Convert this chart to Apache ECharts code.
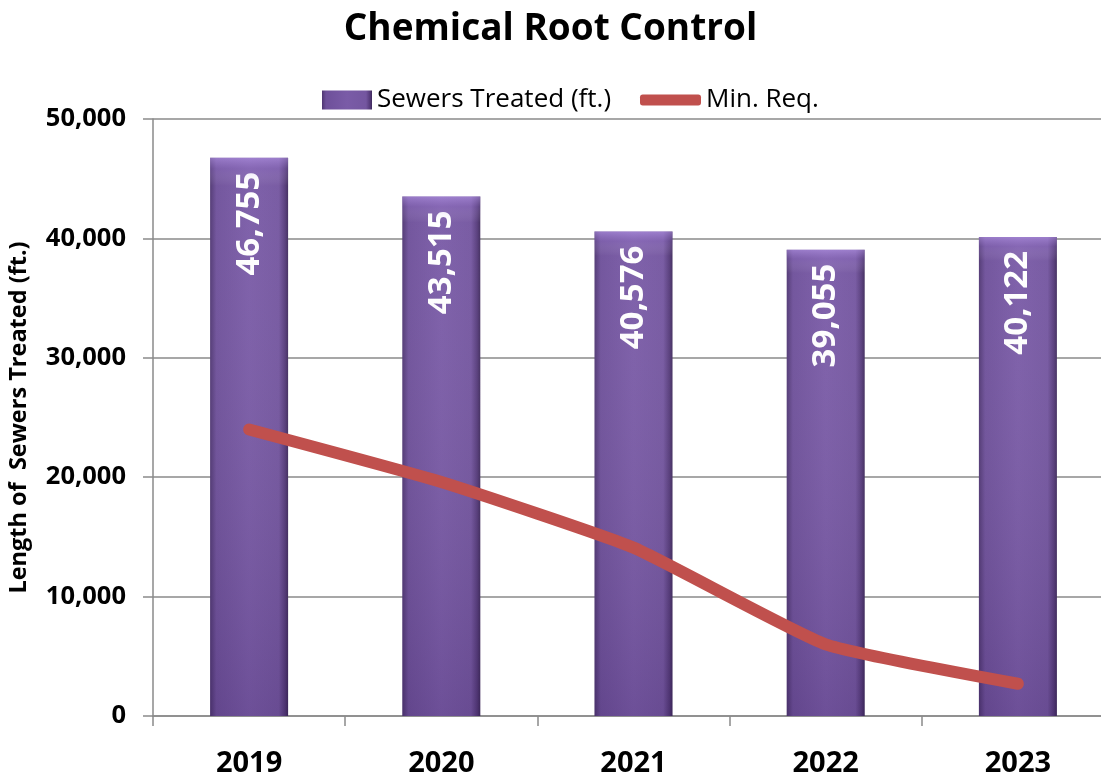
<!DOCTYPE html>
<html><head><meta charset="utf-8">
<script src="https://cdn.jsdelivr.net/npm/echarts@6/dist/echarts.min.js"></script>
<style>html,body{margin:0;padding:0;background:#fff}#c{width:1101px;height:778px}</style>
</head><body><div id="c"></div>
<script>
const years = ['2019','2020','2021','2022','2023'];
const sewersTreated = [46755, 43515, 40576, 39055, 40122];
const minReq = [24000, 19600, 14100, 6000, 2700];
const yTicks = [0, 10000, 20000, 30000, 40000, 50000];

const chart = echarts.init(document.getElementById('c'));
const F = '"Open Sans", Lato, sans-serif';
const barGrad = new echarts.graphic.LinearGradient(0,0,1,0,[
  {offset:0,color:'#4f3672'},{offset:0.08,color:'#6e509a'},{offset:0.5,color:'#7a5ba7'},
  {offset:0.88,color:'#7456a0'},{offset:0.96,color:'#553a7a'},{offset:1,color:'#3f2a5c'}]);
const shadeGrad = new echarts.graphic.LinearGradient(0,0,0,1,[
  {offset:0,color:'rgba(190,160,240,0.55)'},{offset:0.02,color:'rgba(170,140,220,0.25)'},
  {offset:0.05,color:'rgba(255,255,255,0.04)'},{offset:1,color:'rgba(30,10,60,0.14)'}]);
chart.setOption({
  animation:false,
  title:{text:'Chemical Root Control',left:'center',top:6,textStyle:{fontFamily:F,fontSize:37,fontWeight:'bold',color:'#000'}},
  legend:[{data:[{name:'Sewers Treated (ft.)',icon:'rect'}],left:317,top:82,itemWidth:50,itemHeight:19,itemGap:3,
    textStyle:{fontFamily:F,fontSize:26,color:'#000'}},
    {data:[{name:'Min. Req.',icon:'roundRect'}],left:635,top:82,itemWidth:61,itemHeight:11,itemGap:3,
    textStyle:{fontFamily:F,fontSize:26,color:'#000'}}],
  grid:{left:153,right:-13,top:119,bottom:62,containLabel:false,outerBoundsMode:'none'},
  xAxis:{type:'category',data:years,
    axisLine:{lineStyle:{color:'#8a8a8a',width:1.5}},
    axisTick:{show:true,length:10,lineStyle:{color:'#8a8a8a',width:1.5}},
    axisLabel:{fontFamily:F,fontSize:29,fontWeight:'bold',color:'#000',margin:33}},
  yAxis:{type:'value',min:0,max:50000,interval:10000,
    name:'Length of  Sewers Treated (ft.)',nameLocation:'middle',nameGap:122,nameRotate:90,
    nameTextStyle:{fontFamily:F,fontSize:23.5,fontWeight:'bold',color:'#000'},
    axisLine:{show:true,lineStyle:{color:'#8a8a8a',width:1.5}},
    axisTick:{show:true,length:10,lineStyle:{color:'#8a8a8a',width:1.5}},
    splitLine:{lineStyle:{color:'#8a8a8a',width:1.5}},
    axisLabel:{fontFamily:F,fontSize:25.5,fontWeight:'bold',color:'#000',margin:27,
      formatter:v=>yTicks.includes(v)?v.toLocaleString('en-US'):''}},
  series:[
    {name:'Sewers Treated (ft.)',type:'bar',data:sewersTreated,barWidth:78,
      itemStyle:{color:barGrad},
      label:{show:true,position:'insideTop',distance:14,rotate:90,align:'right',verticalAlign:'middle',
        fontFamily:F,fontSize:33,fontWeight:'bold',color:'#fff',
        formatter:p=>p.value.toLocaleString('en-US')}},
    {name:'shade',type:'bar',data:sewersTreated,barWidth:78,barGap:'-100%',silent:true,
      itemStyle:{color:shadeGrad},z:3},
    {name:'Min. Req.',type:'line',data:minReq,symbol:'none',smooth:0.15,z:5,
      lineStyle:{color:'#c0504d',width:12,cap:'round',join:'round'},itemStyle:{color:'#c0504d'}}
  ]
});
</script></body></html>
